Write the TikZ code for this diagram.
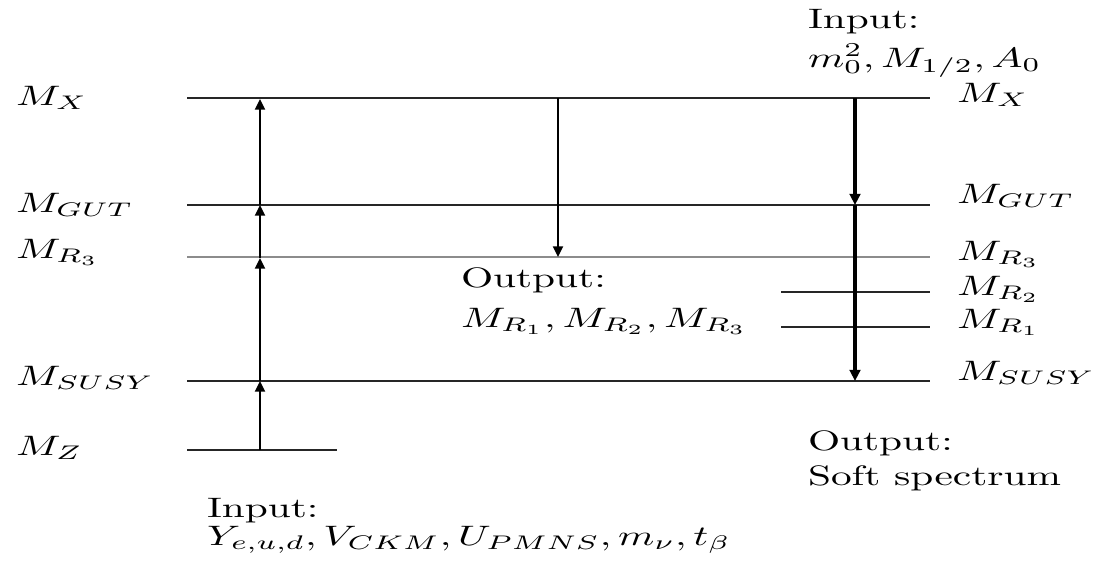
\documentclass[tikz,border=0pt]{standalone}
\usetikzlibrary{arrows.meta}
\newcommand\sx[1]{\scalebox{1.47}[1.0]{#1}}
\begin{document}
\begin{tikzpicture}[x=0.0125cm,y=-0.0125cm,
  level/.style={line width=0.8pt,draw=black!85},
  lightlevel/.style={line width=0.8pt,draw=black!45},
  up/.style={line width=0.55pt,-{Triangle[length=3.8pt,width=3.6pt]}},
  down/.style={line width=0.55pt,-{Triangle[length=3.8pt,width=3.6pt]}},
  thickdown/.style={line width=1.1pt,-{Triangle[length=4pt,width=3.8pt]}},
  lbl/.style={anchor=base west,inner sep=0pt,outer sep=0pt}]
\useasboundingbox (0,0) rectangle (1097,566);
% level lines
\coordinate (xa) at (187,98);  \coordinate (xb) at (930,98);
\coordinate (ga) at (187,205); \coordinate (gb) at (930,205);
\coordinate (ra) at (187,257); \coordinate (rb) at (930,257);
\coordinate (r2a) at (781,292); \coordinate (r2b) at (930,292);
\coordinate (r1a) at (781,327); \coordinate (r1b) at (930,327);
\coordinate (sa) at (187,381); \coordinate (sb) at (930,381);
\coordinate (za) at (187,450); \coordinate (zb) at (337,450);
\draw[level] (xa) -- (xb);
\draw[level] (ga) -- (gb);
\draw[lightlevel] (ra) -- (rb);
\draw[level] (r2a) -- (r2b);
\draw[level] (r1a) -- (r1b);
\draw[level] (sa) -- (sb);
\draw[level] (za) -- (zb);
% left arrows
\coordinate (lz) at (260,450); \coordinate (ls) at (260,381);
\coordinate (lr) at (260,258); \coordinate (lg) at (260,205);
\coordinate (lx) at (260,99);
\draw[up] (lz) -- (ls);
\draw[up] (ls) -- (lr);
\draw[up] (lr) -- (lg);
\draw[up] (lg) -- (lx);
% middle arrow
\coordinate (mx) at (558,98); \coordinate (mr) at (558,257);
\draw[down] (mx) -- (mr);
% right arrows
\coordinate (rx) at (855,98); \coordinate (rg) at (855,205); \coordinate (rs) at (855,381);
\draw[thickdown] (rx) -- (rg);
\draw[thickdown] (rg) -- (rs);
% left labels
\node[lbl] (LX) at (16,105) {\sx{$M_X$}};
\node[lbl] (LG) at (16,212) {\sx{$M_{GUT}$}};
\node[lbl] (LR) at (16,258) {\sx{$M_{R_3}$}};
\node[lbl] (LS) at (16,385) {\sx{$M_{SUSY}$}};
\node[lbl] (LZ) at (16,455) {\sx{$M_Z$}};
% right labels
\node[lbl] (RX) at (957,102) {\sx{$M_X$}};
\node[lbl] (RG) at (957,203) {\sx{$M_{GUT}$}};
\node[lbl] (RR3) at (957,260) {\sx{$M_{R_3}$}};
\node[lbl] (RR2) at (957,295) {\sx{$M_{R_2}$}};
\node[lbl] (RR1) at (957,328) {\sx{$M_{R_1}$}};
\node[lbl] (RS) at (957,380) {\sx{$M_{SUSY}$}};
% texts
\node[lbl] (in1a) at (808,28) {\sx{Input:}};
\node[lbl] (in1b) at (808,67) {\sx{$m_0^2, M_{1/2}, A_0$}};
\node[lbl] (out1a) at (461,287) {\sx{Output:}};
\node[lbl] (out1b) at (461,327) {\sx{$M_{R_1}, M_{R_2}, M_{R_3}$}};
\node[lbl] (out2a) at (808,450) {\sx{Output:}};
\node[lbl] (out2b) at (808,485) {\sx{Soft spectrum}};
\node[lbl] (in2a) at (207,517) {\sx{Input:}};
\node[lbl] (in2b) at (207,545) {\sx{$Y_{e,u,d}, V_{CKM}, U_{PMNS}, m_\nu, t_\beta$}};
\end{tikzpicture}
\end{document}
